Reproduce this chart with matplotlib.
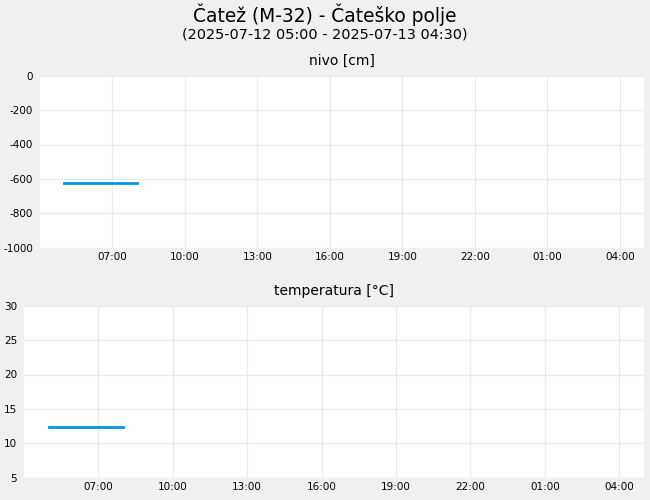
import pandas as pd
import matplotlib
matplotlib.use("Agg")
import matplotlib.pyplot as plt
import matplotlib.dates as mdates

# Data (30 min readings)
times = ["2025-07-12 05:00", "2025-07-12 05:30", "2025-07-12 06:00", "2025-07-12 06:30",
         "2025-07-12 07:00", "2025-07-12 07:30", "2025-07-12 08:00"]
nivo = [-622, -622, -622, -622, -622, -622, -622]
temperatura = [12.4, 12.4, 12.4, 12.4, 12.4, 12.4, 12.4]

x_start = "2025-07-12 04:00"
x_end = "2025-07-13 05:00"
first_tick = "2025-07-12 07:00"

bg_color = "#f0f0f0"
line_color = "#0096e6"
grid_color = "#ebebeb"

plt.rcParams['axes.unicode_minus'] = False

t = pd.to_datetime(times)
xlim = (pd.to_datetime(x_start), pd.to_datetime(x_end))
xticks = pd.date_range(first_tick, x_end, freq="3h")

fig = plt.figure(figsize=(6.5, 5), dpi=100, facecolor=bg_color)
fig.text(0.5, 0.971, "Čatež (M-32) - Čateško polje", ha="center", va="center", fontsize=13.4)
fig.text(0.5, 0.930, "(2025-07-12 05:00 - 2025-07-13 04:30)", ha="center", va="center", fontsize=10.4)

ax1 = fig.add_axes([0.0615, 0.5046, 0.9293, 0.344])
ax2 = fig.add_axes([0.0369, 0.0446, 0.9539, 0.344])

panels = [
    (ax1, nivo, "nivo [cm]", (-1000, 0), list(range(-1000, 1, 200))),
    (ax2, temperatura, "temperatura [°C]", (5, 30), list(range(5, 31, 5))),
]

for ax, values, title, ylim, yticks in panels:
    ax.plot(t, values, color=line_color, linewidth=2)
    ax.set_xlim(xlim)
    ax.set_ylim(ylim)
    ax.set_yticks(yticks)
    ax.set_xticks(xticks)
    ax.xaxis.set_major_formatter(mdates.DateFormatter("%H:%M"))
    ax.grid(True, color=grid_color, linewidth=1)
    ax.set_axisbelow(True)
    for s in ax.spines.values():
        s.set_visible(False)
    ax.tick_params(axis="x", length=0, labelsize=7.5, pad=3)
    ax.tick_params(axis="y", length=0, labelsize=7.5, pad=5)
    ax.set_title(title, fontsize=10, pad=8)

fig.savefig("out.png", dpi=100, facecolor=bg_color)
